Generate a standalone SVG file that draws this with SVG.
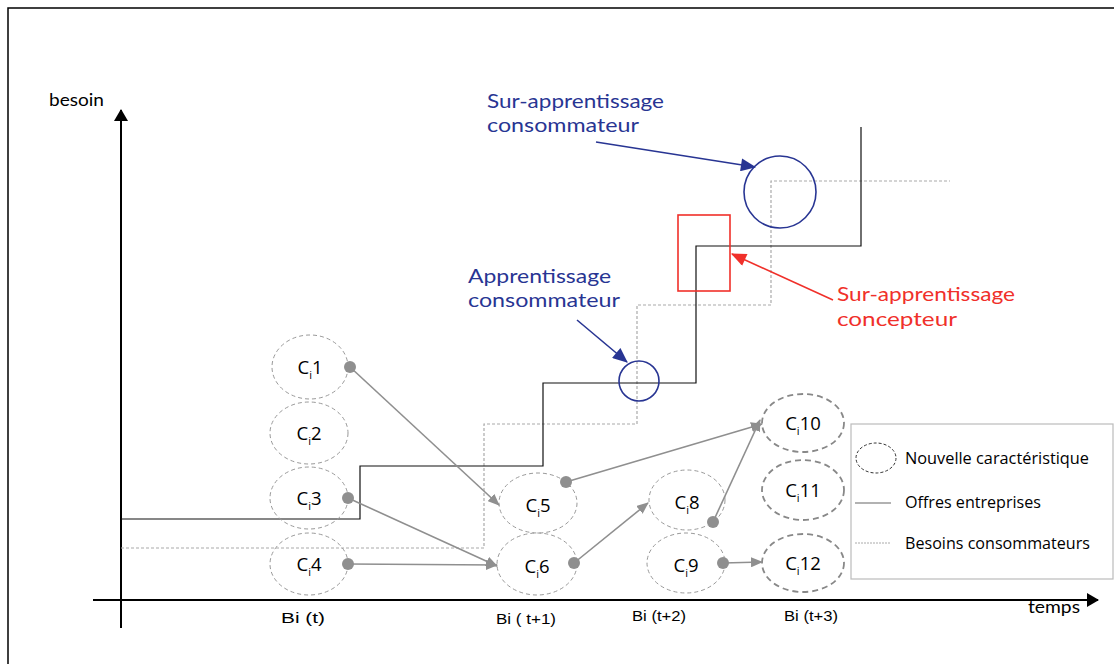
<svg xmlns="http://www.w3.org/2000/svg" width="1114" height="664" viewBox="0 0 1114 664">
<defs>
<style>
.nd ellipse{fill:none;stroke:#999;stroke-width:1;stroke-dasharray:4 3}
.nd.new ellipse{stroke:#888;stroke-width:1.8;stroke-dasharray:6 4}
.lbl{font-family:"Open Sans","Liberation Sans",sans-serif;font-size:18.5px;fill:#000;text-anchor:middle}
.sub{font-size:11px}
.dot{fill:#8f8f8f}
.arr{stroke:#8f8f8f;stroke-width:1.6;fill:none;marker-end:url(#ga)}
.blue{fill:#283593;font-family:"Lato","Liberation Sans",sans-serif;font-size:19px}
.red{fill:#f0302a;font-family:"Lato","Liberation Sans",sans-serif;font-size:19px}
.bi{font-family:"Liberation Sans",sans-serif;font-size:15px;fill:#000}
.leg{font-family:"Open Sans","Liberation Sans",sans-serif;font-size:15.5px;fill:#000}
.ax{font-family:Lato,"Liberation Sans",sans-serif;font-size:17px;fill:#000}
</style>
<marker id="ga" viewBox="0 0 12 10" refX="11" refY="5" markerWidth="12" markerHeight="10" markerUnits="userSpaceOnUse" orient="auto"><path d="M0,0 L12,5 L0,10 z" fill="#8f8f8f"/></marker>
<marker id="ba" viewBox="0 0 14 12" refX="13" refY="6" markerWidth="16" markerHeight="13" markerUnits="userSpaceOnUse" orient="auto"><path d="M0,0 L14,6 L0,12 z" fill="#283593"/></marker>
<marker id="ra" viewBox="0 0 14 12" refX="13" refY="6" markerWidth="16" markerHeight="13" markerUnits="userSpaceOnUse" orient="auto"><path d="M0,0 L14,6 L0,12 z" fill="#f0302a"/></marker>
<marker id="ka" viewBox="0 0 12 14" refX="11" refY="7" markerWidth="12" markerHeight="14" markerUnits="userSpaceOnUse" orient="auto"><path d="M0,0 L12,7 L0,14 z" fill="#000"/></marker>
</defs>
<rect width="1114" height="664" fill="#fff"/>
<g id="frame" stroke="#000" stroke-width="1.5" fill="none">
<path d="M8,664 L8,8 L1114,8"/>
</g>
<g id="axes" stroke="#000" stroke-width="2" fill="none">
<path d="M121,628 L121,110" marker-end="url(#ka)"/>
<path d="M93,600 L1098,600" marker-end="url(#ka)"/>
</g>
<text class="ax" x="49" y="106" textLength="55" lengthAdjust="spacingAndGlyphs">besoin</text>
<text class="ax" x="1028" y="613" textLength="52" lengthAdjust="spacingAndGlyphs">temps</text>

<g id="steps">
<path d="M121,548 L484,548 L484,424 L637,424 L637,305 L771,305 L771,181 L950,181" fill="none" stroke="#aaa" stroke-width="1.2" stroke-dasharray="3 2"/>
<path d="M121,519 L360,519 L360,466 L543,466 L543,383 L696,383 L696,246 L861,246 L861,127" fill="none" stroke="#111" stroke-width="1.2"/>
</g>

<g id="ci1" class="nd"><ellipse cx="310" cy="367" rx="38" ry="32"/><text class="lbl" x="310" y="374">C<tspan class="sub" dy="5">i</tspan><tspan dy="-5">1</tspan></text></g>
<g id="ci2" class="nd"><ellipse cx="309" cy="433" rx="39" ry="31"/><text class="lbl" x="309" y="440">C<tspan class="sub" dy="5">i</tspan><tspan dy="-5">2</tspan></text></g>
<g id="ci3" class="nd"><ellipse cx="309" cy="498" rx="39" ry="31"/><text class="lbl" x="309" y="505">C<tspan class="sub" dy="5">i</tspan><tspan dy="-5">3</tspan></text></g>
<g id="ci4" class="nd"><ellipse cx="309" cy="564" rx="39" ry="31"/><text class="lbl" x="309" y="571">C<tspan class="sub" dy="5">i</tspan><tspan dy="-5">4</tspan></text></g>
<g id="ci5" class="nd"><ellipse cx="538" cy="503" rx="39" ry="30"/><text class="lbl" x="538" y="512">C<tspan class="sub" dy="5">i</tspan><tspan dy="-5">5</tspan></text></g>
<g id="ci6" class="nd"><ellipse cx="537" cy="564" rx="40" ry="31"/><text class="lbl" x="537" y="573">C<tspan class="sub" dy="5">i</tspan><tspan dy="-5">6</tspan></text></g>
<g id="ci8" class="nd"><ellipse cx="687" cy="500" rx="38" ry="30"/><text class="lbl" x="687" y="509">C<tspan class="sub" dy="5">i</tspan><tspan dy="-5">8</tspan></text></g>
<g id="ci9" class="nd"><ellipse cx="686" cy="563" rx="39" ry="30"/><text class="lbl" x="686" y="572">C<tspan class="sub" dy="5">i</tspan><tspan dy="-5">9</tspan></text></g>
<g id="ci10" class="nd new"><ellipse cx="803" cy="423" rx="41" ry="29"/><text class="lbl" x="803" y="430">C<tspan class="sub" dy="5">i</tspan><tspan dy="-5">10</tspan></text></g>
<g id="ci11" class="nd new"><ellipse cx="803" cy="490" rx="41" ry="30"/><text class="lbl" x="803" y="497">C<tspan class="sub" dy="5">i</tspan><tspan dy="-5">11</tspan></text></g>
<g id="ci12" class="nd new"><ellipse cx="803" cy="563" rx="41" ry="29"/><text class="lbl" x="803" y="570">C<tspan class="sub" dy="5">i</tspan><tspan dy="-5">12</tspan></text></g>

<g id="connectors">
<path class="arr" d="M350,367 L499,505"/>
<path class="arr" d="M348,498 L497,566"/>
<path class="arr" d="M348,564 L497,565"/>
<path class="arr" d="M566,482 L762,424"/>
<path class="arr" d="M574,563 L648,503"/>
<path class="arr" d="M713,522 L760,420"/>
<path class="arr" d="M723,563 L762,562"/>
<circle class="dot" cx="350" cy="367" r="6"/>
<circle class="dot" cx="348" cy="498" r="6"/>
<circle class="dot" cx="348" cy="564" r="6"/>
<circle class="dot" cx="566" cy="482" r="6"/>
<circle class="dot" cx="574" cy="563" r="6"/>
<circle class="dot" cx="713" cy="522" r="6"/>
<circle class="dot" cx="723" cy="563" r="6"/>
</g>

<g id="annotations">
<circle cx="639" cy="381" r="20" fill="none" stroke="#283593" stroke-width="1.6"/>
<circle cx="780" cy="192" r="36" fill="none" stroke="#283593" stroke-width="1.6"/>
<rect x="678" y="215" width="52" height="76" fill="none" stroke="#f0302a" stroke-width="1.6"/>
<path d="M596,142 L755,167" stroke="#283593" stroke-width="1.6" fill="none" marker-end="url(#ba)"/>
<path d="M577,320 L627,362" stroke="#283593" stroke-width="1.6" fill="none" marker-end="url(#ba)"/>
<path d="M833,300 L732,254" stroke="#f0302a" stroke-width="1.6" fill="none" marker-end="url(#ra)"/>
<text class="blue" x="487" y="108" textLength="177" lengthAdjust="spacingAndGlyphs">Sur-apprentissage</text>
<text class="blue" x="487" y="132" textLength="152" lengthAdjust="spacingAndGlyphs">consommateur</text>
<text class="blue" x="468" y="283" textLength="143" lengthAdjust="spacingAndGlyphs">Apprentissage</text>
<text class="blue" x="468" y="307" textLength="152" lengthAdjust="spacingAndGlyphs">consommateur</text>
<text class="red" x="837" y="301" textLength="178" lengthAdjust="spacingAndGlyphs">Sur-apprentissage</text>
<text class="red" x="837" y="326" textLength="120" lengthAdjust="spacingAndGlyphs">concepteur</text>
</g>

<g id="ticks">
<text class="bi" x="281" y="623" textLength="44" lengthAdjust="spacingAndGlyphs">Bi (t)</text>
<text class="bi" x="496" y="624" textLength="60" lengthAdjust="spacingAndGlyphs">Bi ( t+1)</text>
<text class="bi" x="632" y="621" textLength="54" lengthAdjust="spacingAndGlyphs">Bi (t+2)</text>
<text class="bi" x="784" y="621" textLength="54" lengthAdjust="spacingAndGlyphs">Bi (t+3)</text>
</g>

<g id="legend">
<rect x="851" y="424" width="262" height="155" fill="#fff" stroke="#bbb" stroke-width="1.2"/>
<ellipse cx="876" cy="458" rx="20" ry="15" fill="none" stroke="#333" stroke-width="1" stroke-dasharray="3 2"/>
<text class="leg" x="905" y="464" textLength="184" lengthAdjust="spacingAndGlyphs">Nouvelle caractéristique</text>
<path d="M855,503 L891,503" stroke="#999" stroke-width="1.3"/>
<text class="leg" x="905" y="508" textLength="136" lengthAdjust="spacingAndGlyphs">Offres entreprises</text>
<path d="M855,543 L891,543" stroke="#aaa" stroke-width="1" stroke-dasharray="2 1"/>
<text class="leg" x="905" y="549" textLength="185" lengthAdjust="spacingAndGlyphs">Besoins consommateurs</text>
</g>
</svg>
